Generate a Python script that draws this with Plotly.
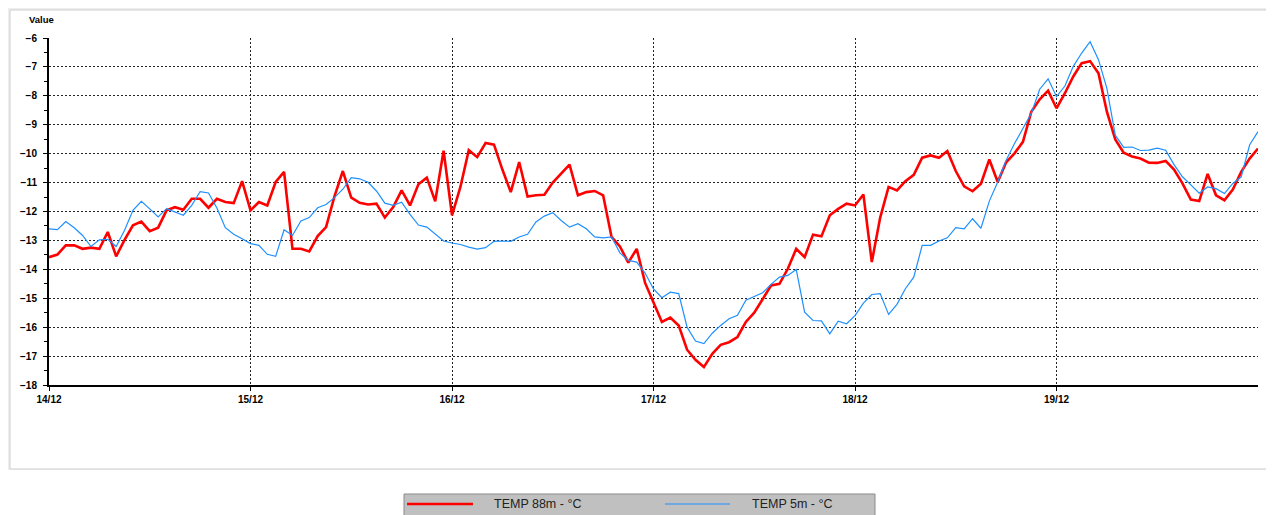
import pandas as pd
import plotly.graph_objects as go

# hourly readings from 14/12 00:00 to 20/12 00:00
start = "2021-12-14 00:00"

temp_88m = [
    -13.58, -13.49, -13.17, -13.17, -13.29, -13.25, -13.29, -12.71, -13.55, -12.98,
    -12.48, -12.35, -12.68, -12.56, -11.96, -11.85, -11.94, -11.56, -11.56, -11.87,
    -11.56, -11.67, -11.71, -10.95, -11.96, -11.67, -11.79, -10.98, -10.63, -13.29,
    -13.29, -13.38, -12.85, -12.54, -11.48, -10.60, -11.52, -11.70, -11.76, -11.73,
    -12.21, -11.85, -11.27, -11.79, -11.06, -10.83, -11.65, -9.90, -12.13, -11.15,
    -9.88, -10.12, -9.63, -9.69, -10.55, -11.33, -10.29, -11.48, -11.44, -11.42,
    -11.00, -10.69, -10.38, -11.44, -11.33, -11.29, -11.44, -12.88, -13.21, -13.77,
    -13.29, -14.47, -15.17, -15.82, -15.67, -15.94, -16.78, -17.13, -17.38, -16.92,
    -16.61, -16.52, -16.34, -15.82, -15.50, -15.02, -14.56, -14.50, -13.98, -13.29,
    -13.58, -12.80, -12.86, -12.13, -11.91, -11.73, -11.79, -11.41, -13.75, -12.21,
    -11.15, -11.27, -10.95, -10.73, -10.14, -10.06, -10.14, -9.91, -10.60, -11.13,
    -11.30, -11.04, -10.20, -10.98, -10.30, -9.99, -9.59, -8.55, -8.12, -7.82,
    -8.43, -7.91, -7.33, -6.87, -6.80, -7.22, -8.55, -9.51, -9.97, -10.10,
    -10.17, -10.31, -10.32, -10.25, -10.55, -11.03, -11.59, -11.64, -10.70, -11.44,
    -11.61, -11.24, -10.63, -10.17, -9.82,
]

temp_5m = [
    -12.60, -12.63, -12.35, -12.56, -12.83, -13.21, -12.98, -12.96, -13.21, -12.65,
    -11.96, -11.65, -11.91, -12.19, -11.90, -12.02, -12.13, -11.79, -11.31, -11.36,
    -11.88, -12.56, -12.79, -12.94, -13.11, -13.17, -13.48, -13.55, -12.63, -12.83,
    -12.33, -12.21, -11.87, -11.76, -11.52, -11.23, -10.83, -10.87, -10.99, -11.29,
    -11.71, -11.79, -11.68, -12.10, -12.47, -12.54, -12.78, -13.02, -13.09, -13.14,
    -13.23, -13.30, -13.25, -13.03, -13.02, -13.03, -12.88, -12.79, -12.36, -12.16,
    -12.04, -12.31, -12.54, -12.42, -12.60, -12.88, -12.91, -12.88, -13.43, -13.69,
    -13.75, -14.13, -14.68, -14.98, -14.79, -14.84, -16.00, -16.48, -16.57, -16.21,
    -15.94, -15.71, -15.59, -15.07, -14.94, -14.81, -14.52, -14.27, -14.21, -14.01,
    -15.48, -15.77, -15.78, -16.23, -15.79, -15.88, -15.60, -15.17, -14.87, -14.84,
    -15.56, -15.21, -14.67, -14.27, -13.17, -13.17, -13.02, -12.91, -12.56, -12.60,
    -12.25, -12.58, -11.64, -10.98, -10.23, -9.65, -9.13, -8.60, -7.77, -7.41,
    -8.03, -7.66, -6.98, -6.52, -6.13, -6.75, -7.74, -9.36, -9.78, -9.77,
    -9.89, -9.88, -9.81, -9.88, -10.38, -10.80, -11.08, -11.37, -11.15, -11.21,
    -11.38, -11.03, -10.80, -9.70, -9.24,
]

day_ticks = ["2021-12-14", "2021-12-15", "2021-12-16", "2021-12-17", "2021-12-18", "2021-12-19"]
day_labels = ["14/12", "15/12", "16/12", "17/12", "18/12", "19/12"]

series_names = ["TEMP 88m - °C", "TEMP 5m - °C"]
series_colors = ["#ff0000", "#1e90ff"]

times = pd.date_range(start, periods=len(temp_88m), freq="h")

# the page body has an 8px margin, so the figure starts at (8, 8) in the window
OFF = 8
W, H = 1274 - OFF, 515 - OFF
# plot area in window pixels: x 49..1258, y 38..385
PX0, PX1, PY0, PY1 = 49, 1258, 38, 385
L, T = PX0 - OFF, PY0 - OFF
R = W - (PX1 - OFF)
B = H - (PY1 - OFF)
pw = PX1 - PX0
ph = PY1 - PY0

def px(x):
    # window pixel x -> paper coordinate
    return (x - PX0) / pw

def py(y):
    # window pixel y -> paper coordinate
    return (PY1 - y) / ph

fig = go.Figure()
fig.add_trace(go.Scatter(x=times, y=temp_88m, mode="lines", name=series_names[0],
                         line=dict(color=series_colors[0], width=2.6)))
fig.add_trace(go.Scatter(x=times, y=temp_5m, mode="lines", name=series_names[1],
                         line=dict(color=series_colors[1], width=1.2)))

font_family = "Liberation Sans, Arial, sans-serif"
tickfont = dict(family=font_family, size=10, color="black", weight="bold")

shapes = [
    # chart panel frame
    dict(type="rect", xref="paper", yref="paper", x0=px(OFF), x1=px(1274), y0=py(OFF), y1=py(470),
         fillcolor="#eeeeee", line=dict(width=0), layer="below"),
    dict(type="rect", xref="paper", yref="paper", x0=px(10), x1=px(1271), y0=py(10), y1=py(469),
         fillcolor="white", line=dict(color="#cfcfcf", width=1), layer="below"),
    # legend box
    dict(type="rect", xref="paper", yref="paper", x0=px(404), x1=px(875), y0=py(494), y1=py(520),
         fillcolor="#c0c0c0", line=dict(color="#8a8a8a", width=1)),
    dict(type="line", xref="paper", yref="paper", x0=px(407), x1=px(473), y0=py(504), y1=py(504),
         line=dict(color=series_colors[0], width=2.6)),
    dict(type="line", xref="paper", yref="paper", x0=px(665), x1=px(730), y0=py(504), y1=py(504),
         line=dict(color=series_colors[1], width=1.2)),
]

annotations = [
    dict(text="Value", xref="paper", yref="paper", x=px(27), y=py(20), xanchor="left", yanchor="middle",
         showarrow=False, font=dict(family=font_family, size=9.5, color="black", weight="bold")),
    dict(text=series_names[0], xref="paper", yref="paper", x=px(492), y=py(504), xanchor="left", yanchor="middle",
         showarrow=False, font=dict(family=font_family, size=12.5, color="#222222")),
    dict(text=series_names[1], xref="paper", yref="paper", x=px(750), y=py(504), xanchor="left", yanchor="middle",
         showarrow=False, font=dict(family=font_family, size=12.5, color="#222222")),
]

fig.update_layout(
    width=W, height=H,
    margin=dict(l=L, r=R, t=T, b=B),
    paper_bgcolor="white",
    plot_bgcolor="rgba(0,0,0,0)",
    showlegend=False,
    shapes=shapes,
    annotations=annotations,
    xaxis=dict(
        type="date",
        range=[times[0], times[-1]],
        tickvals=day_ticks,
        ticktext=day_labels,
        tickfont=tickfont,
        showgrid=True, gridcolor="#222222", gridwidth=1, griddash="2px,2px",
        showline=True, linecolor="black", linewidth=2,
        ticks="outside", ticklen=4, tickcolor="black",
        zeroline=False,
    ),
    yaxis=dict(
        range=[-18, -6],
        tick0=-18, dtick=1,
        tickfont=tickfont,
        showgrid=True, gridcolor="#222222", gridwidth=1, griddash="2px,2px",
        showline=True, linecolor="black", linewidth=2,
        ticks="outside", ticklen=4, tickcolor="black",
        ticklabelstandoff=4,
        minor=dict(dtick=0.5, ticks="outside", ticklen=3, tickcolor="black", showgrid=False),
        zeroline=False,
    ),
)

fig.write_html("out.html")
